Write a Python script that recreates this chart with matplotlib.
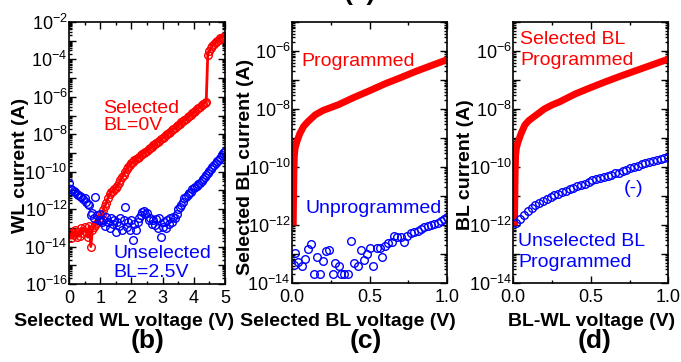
import numpy as np
from matplotlib import pyplot as plt
from matplotlib import rc
from matplotlib.ticker import LogLocator, FuncFormatter, MultipleLocator

rc('font', family=['Liberation Sans', 'DejaVu Sans'], size=13)
rc('mathtext', default='regular')
rc('axes', linewidth=1.2)

# (b) WL current vs selected WL voltage, sweep 0..5 V in 0.05 V steps
wl_v = np.round(np.arange(0, 5.001, 0.05), 2)
sel_bl0_log = [
    -13.3, -13.55, -13.25, -13.4, -13.1, -13.5, -13.2, -13.45, -13.0, -13.3,
    -12.95, -13.2, -13.5, -12.9, -14.0, -13.1, -12.95, -12.85, -12.75, -12.6,
    -12.45, -12.25, -12.05, -11.85, -11.65, -11.4, -11.2, -11.1, -11.05, -10.95,
    -10.85, -10.75, -10.6, -10.45, -10.3, -10.15, -10.0, -9.85, -9.75, -9.65,
    -9.55, -9.48, -9.4, -9.33, -9.26, -9.2, -9.13, -9.06, -9.0, -8.93,
    -8.87, -8.8, -8.74, -8.67, -8.6, -8.54, -8.47, -8.4, -8.34, -8.27,
    -8.2, -8.13, -8.06, -8.0, -7.93, -7.86, -7.79, -7.72, -7.65, -7.58,
    -7.51, -7.44, -7.37, -7.3, -7.23, -7.16, -7.09, -7.02, -6.95, -6.88,
    -6.81, -6.74, -6.67, -6.6, -6.53, -6.46, -6.4, -6.33, -6.27, -3.75,
    -3.55, -3.4, -3.27, -3.17, -3.08, -3.0, -2.94, -2.88, -2.83, -2.79,
    -2.76]
unsel_bl25_log = [
    -10.6, -10.9, -11.0, -11.05, -11.1, -11.2, -11.25, -11.3, -11.35, -11.45,
    -11.4, -11.6, -11.7, -11.8, -12.3, -12.2, -12.5, -11.35, -12.3, -12.6,
    -12.25, -12.7, -12.6, -12.9, -12.4, -12.7, -13.0, -12.5, -12.8, -12.6,
    -13.2, -12.7, -12.9, -12.5, -13.1, -12.6, -11.9, -12.95, -12.7, -13.1,
    -12.6, -13.65, -12.8, -13.1, -12.7, -12.5, -12.3, -12.15, -12.1, -12.25,
    -12.2, -12.6, -12.45, -12.8, -12.6, -12.85, -12.55, -13.0, -12.5, -13.5,
    -12.95, -12.7, -13.0, -12.6, -12.8, -12.5, -12.7, -12.4, -12.5, -12.25,
    -12.0, -11.9, -11.8, -11.6, -11.4, -11.35, -11.25, -11.15, -11.1, -10.95,
    -10.85, -10.8, -10.75, -10.65, -10.6, -10.5, -10.4, -10.3, -10.2, -10.05,
    -9.95, -9.85, -9.75, -9.65, -9.55, -9.45, -9.35, -9.25, -9.1, -9.0,
    -8.9]

# (c) selected BL current vs selected BL voltage
prog_v = [0.008, 0.01, 0.012, 0.015, 0.02, 0.03, 0.04, 0.05, 0.075, 0.1, 0.15,
          0.2, 0.25, 0.3, 0.4, 0.5, 0.6, 0.7, 0.8, 0.9, 1.0]
prog_c_log = [-11.9, -11.0, -10.2, -9.6, -9.35, -9.15, -9.0, -8.85, -8.6, -8.45, -8.2,
              -8.05, -7.95, -7.85, -7.6, -7.37, -7.13, -6.92, -6.7, -6.5, -6.3]
unprog_v = [0.015, 0.019, 0.041, 0.062, 0.084, 0.105, 0.123, 0.144, 0.159, 0.181,
            0.2, 0.219, 0.24, 0.263, 0.277, 0.3, 0.316, 0.338, 0.36, 0.38,
            0.4, 0.424, 0.443, 0.462, 0.484, 0.503, 0.52, 0.546, 0.568, 0.583,
            0.6, 0.621, 0.643, 0.66, 0.68, 0.703, 0.724, 0.744, 0.768, 0.79,
            0.81, 0.832, 0.854, 0.875, 0.897, 0.918, 0.94, 0.961, 0.983, 1.0]
unprog_log = [-13.38, -12.98, -13.27, -13.42, -13.18, -12.84, -12.66, -13.69, -13.11, -13.69,
              -13.23, -12.89, -12.86, -13.69, -13.3, -13.4, -13.69, -13.69, -13.69, -12.56,
              -13.3, -13.4, -12.86, -13.2, -13.0, -12.8, -13.4, -12.8, -12.8, -13.09,
              -12.72, -12.61, -12.57, -12.38, -12.42, -12.42, -12.57, -12.38, -12.28, -12.23,
              -12.19, -12.15, -12.08, -12.05, -12.0, -11.96, -11.92, -11.86, -11.8, -11.73]

# (d) BL current vs BL-WL voltage
prog_d_log = [-11.9, -11.0, -10.2, -9.6, -9.35, -9.15, -9.0, -8.85, -8.55, -8.4, -8.2,
              -8.0, -7.86, -7.75, -7.48, -7.26, -7.05, -6.85, -6.66, -6.47, -6.28]
unsel_v = np.linspace(0.02, 1.0, 41)
unsel_prog_log = [-11.93, -11.8, -11.65, -11.52, -11.41, -11.31, -11.23, -11.16, -11.1, -11.04,
                  -10.97, -10.92, -10.86, -10.81, -10.76, -10.71, -10.67, -10.62, -10.57, -10.5,
                  -10.46, -10.42, -10.38, -10.34, -10.3, -10.26, -10.22, -10.19, -10.15, -10.11,
                  -10.05, -10.01, -9.96, -9.91, -9.86, -9.82, -9.79, -9.76, -9.72, -9.69,
                  -9.65]


def decade_label(v, pos):
    e = int(round(np.log10(v)))
    return r'$10^{%d}$' % e if e % 2 == 0 else ''


def style(ax, ylim, xmax, xmajor, xminor, xfmt):
    ax.set_yscale('log')
    ax.set_ylim(*ylim)
    ax.set_xlim(0, xmax)
    ax.yaxis.set_major_locator(LogLocator(base=10, numticks=30))
    ax.yaxis.set_minor_locator(LogLocator(base=10, subs=np.arange(2, 10), numticks=30))
    ax.yaxis.set_major_formatter(FuncFormatter(decade_label))
    ax.xaxis.set_major_locator(MultipleLocator(xmajor))
    ax.xaxis.set_minor_locator(MultipleLocator(xminor))
    ax.xaxis.set_major_formatter(FuncFormatter(lambda v, p: xfmt % v))
    ax.tick_params(which='both', direction='in', top=True, right=True, width=1)
    ax.tick_params(which='major', length=5, labelsize=13)
    ax.tick_params(axis='y', which='major', pad=1)
    ax.tick_params(axis='x', which='major', pad=4)
    ax.tick_params(which='minor', length=2.5)


fig = plt.figure(figsize=(6.81, 3.62), dpi=100)
ax_b = fig.add_axes([0.1013, 0.2155, 0.229, 0.7238])
ax_c = fig.add_axes([0.4288, 0.2182, 0.2276, 0.721])
ax_d = fig.add_axes([0.7537, 0.2182, 0.2276, 0.721])

circ = dict(marker='o', mfc='none', ms=5.5, mew=1.0)

# (b)
ax_b.plot(wl_v, 10 ** np.array(sel_bl0_log), ls='-', color='red', mec='red', lw=2, **circ)
ax_b.plot(wl_v, 10 ** np.array(unsel_bl25_log), ls='none', mec='blue', **circ)
style(ax_b, (1e-16, 1e-2), 5, 1, 0.5, '%d')
ax_b.set_ylabel('WL current (A)', fontsize=14, fontweight='bold', va='center')
ax_b.yaxis.set_label_coords(-0.314, 0.454)
ax_b.set_xlabel('Selected WL voltage (V)', fontsize=14, fontweight='bold')
ax_b.xaxis.set_label_coords(0.356, -0.112)
# va='baseline' pins the baseline of the last line
ax_b.text(0.22, 0.588, 'Selected\nBL=0V', color='red', fontsize=14,
          va='baseline', linespacing=1.0, transform=ax_b.transAxes)
ax_b.text(0.284, 0.028, 'Unselected\nBL=2.5V', color='blue', fontsize=14,
          va='baseline', linespacing=1.12, transform=ax_b.transAxes)

# (c)
ax_c.plot(prog_v, 10 ** np.array(prog_c_log), ls='-', color='red', lw=5)
ax_c.plot(unprog_v, 10 ** np.array(unprog_log), ls='none', mec='blue', **circ)
style(ax_c, (1e-14, 1e-5), 1, 0.5, 0.25, '%.1f')
ax_c.set_ylabel('Selected BL current (A)', fontsize=14, fontweight='bold', va='center')
ax_c.yaxis.set_label_coords(-0.303, 0.444)
ax_c.set_xlabel('Selected BL voltage (V)', fontsize=14, fontweight='bold')
ax_c.xaxis.set_label_coords(0.361, -0.115)
ax_c.text(0.063, 0.833, 'Programmed', color='red', fontsize=14,
          va='baseline', transform=ax_c.transAxes)
ax_c.text(0.084, 0.269, 'Unprogrammed', color='blue', fontsize=14,
          va='baseline', transform=ax_c.transAxes)

# (d)
ax_d.plot(prog_v, 10 ** np.array(prog_d_log), ls='-', color='red', lw=5)
ax_d.plot(unsel_v, 10 ** np.array(unsel_prog_log), ls='none', mec='blue', **circ)
style(ax_d, (1e-14, 1e-5), 1, 0.5, 0.25, '%.1f')
ax_d.set_ylabel('BL current (A)', fontsize=14, fontweight='bold', va='center')
ax_d.yaxis.set_label_coords(-0.305, 0.452)
ax_d.set_xlabel('BL-WL voltage (V)', fontsize=14, fontweight='bold')
ax_d.xaxis.set_label_coords(0.508, -0.115)
ax_d.text(0.043, 0.835, 'Selected BL\nProgrammed', color='red', fontsize=14,
          va='baseline', linespacing=1.33, transform=ax_d.transAxes)
ax_d.text(0.71, 0.344, '(-)', color='blue', fontsize=14,
          va='baseline', transform=ax_d.transAxes)
ax_d.text(0.032, 0.061, 'Unselected BL\nProgrammed', color='blue', fontsize=14,
          va='baseline', linespacing=1.3, transform=ax_d.transAxes)

# panel letters
for xc, lab in [(148, '(b)'), (366, '(c)'), (595, '(d)')]:
    fig.text(xc / 681, 1 - 341 / 362, lab, fontsize=19, fontweight='bold',
             ha='center', va='center')
fig.text(360 / 681, 1 + 7 / 362, '(a)', fontsize=19, fontweight='bold',
         ha='center', va='center')

fig.savefig('out.png', dpi=100, facecolor='white')
